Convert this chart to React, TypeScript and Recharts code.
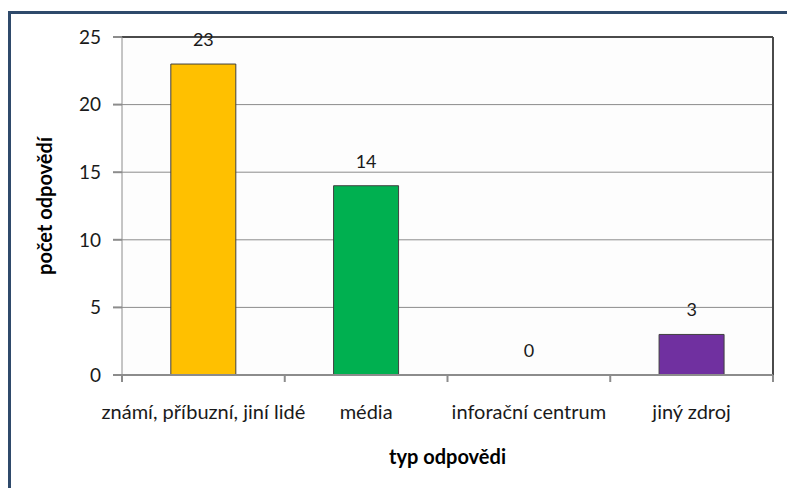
import React from 'react';
import { ComposedChart, Bar, Line, XAxis, YAxis, CartesianGrid, Cell, LabelList, Label, ReferenceLine } from 'recharts';

const categories = ['známí, příbuzní, jiní lidé', 'média', 'inforační centrum', 'jiný zdroj'];
const values = [23, 14, 0, 3];
const barColors = ['#FFC000', '#00B050', '#4BACC6', '#7030A0'];
const yTicks = [0, 5, 10, 15, 20, 25];
const xTitle = 'typ odpovědi';
const yTitle = 'počet odpovědí';

const data = categories.map((name, i) => ({ name, value: values[i] }));

const FONT = 'Lato, "Open Sans", sans-serif';
const AXIS_GRAY = '#8C8C8C';

function CategoryTick(props: any) {
  const { x, y, payload, index, visibleTicksCount } = props;
  const half = payload && typeof payload.offset === 'number' ? payload.offset : 0;
  const last = index === (visibleTicksCount ?? categories.length) - 1;
  const axisY = y - 30;
  return (
    <g>
      <line x1={x - half} x2={x - half} y1={axisY} y2={axisY + 7} stroke={AXIS_GRAY} strokeWidth={2} />
      {last && <line x1={x + half} x2={x + half} y1={axisY} y2={axisY + 7} stroke={AXIS_GRAY} strokeWidth={2} />}
      <text x={x} y={y} dy="0.71em" textAnchor="middle" fill="#1a1a1a" fontSize={20} fontFamily={FONT}>
        {payload.value}
      </text>
    </g>
  );
}

export default function App() {
  return (
    <div style={{ position: 'absolute', left: 0, top: 0, width: 787, height: 488, background: '#fff', overflow: 'hidden' }}>
      <div style={{ position: 'absolute', left: 8, top: 11, width: 800, height: 500, borderTop: '3px solid #2F4A6B', borderLeft: '3px solid #2F4A6B' }} />
      <div style={{ position: 'absolute', left: 0, top: 0 }}>
        <ComposedChart width={787} height={488} data={data} margin={{ top: 37, right: 14, left: 0, bottom: 13 }} barCategoryGap="30%">
          <CartesianGrid vertical={false} stroke={AXIS_GRAY} strokeWidth={1} fill="#FDFDFD" />
          <XAxis dataKey="name" interval={0} tickLine={false} tickSize={0} tickMargin={30} axisLine={{ stroke: AXIS_GRAY, strokeWidth: 2 }} tick={<CategoryTick />} height={100}>
            <Label value={xTitle} position="insideBottom" offset={11} style={{ fill: '#000', fontSize: 20, fontWeight: 700, fontFamily: FONT }} />
          </XAxis>
          <YAxis width={122} domain={[0, 25]} ticks={yTicks} tickSize={9} tickMargin={12} axisLine={{ stroke: AXIS_GRAY, strokeWidth: 1 }} tickLine={{ stroke: AXIS_GRAY, strokeWidth: 2 }} tick={{ fill: '#1a1a1a', fontSize: 19, fontFamily: FONT }}>
            <Label value={yTitle} angle={-90} position="insideLeft" offset={45} style={{ fill: '#000', fontSize: 20, fontWeight: 700, fontFamily: FONT, textAnchor: 'middle' }} />
          </YAxis>
          <ReferenceLine y={25} stroke="#4A4A4A" strokeWidth={2} />
          <ReferenceLine x={categories[3]} position="end" stroke="#4A4A4A" strokeWidth={2} />
          <Bar dataKey="value" isAnimationActive={false} stroke="#404040" strokeWidth={1}>
            {data.map((d, i) => (
              <Cell key={d.name} fill={barColors[i]} />
            ))}
          </Bar>
          <Line dataKey="value" stroke="none" dot={false} activeDot={false} isAnimationActive={false} legendType="none">
            <LabelList dataKey="value" position="top" offset={18} style={{ fill: '#1a1a1a', fontSize: 18, fontFamily: FONT }} />
          </Line>
        </ComposedChart>
      </div>
    </div>
  );
}
